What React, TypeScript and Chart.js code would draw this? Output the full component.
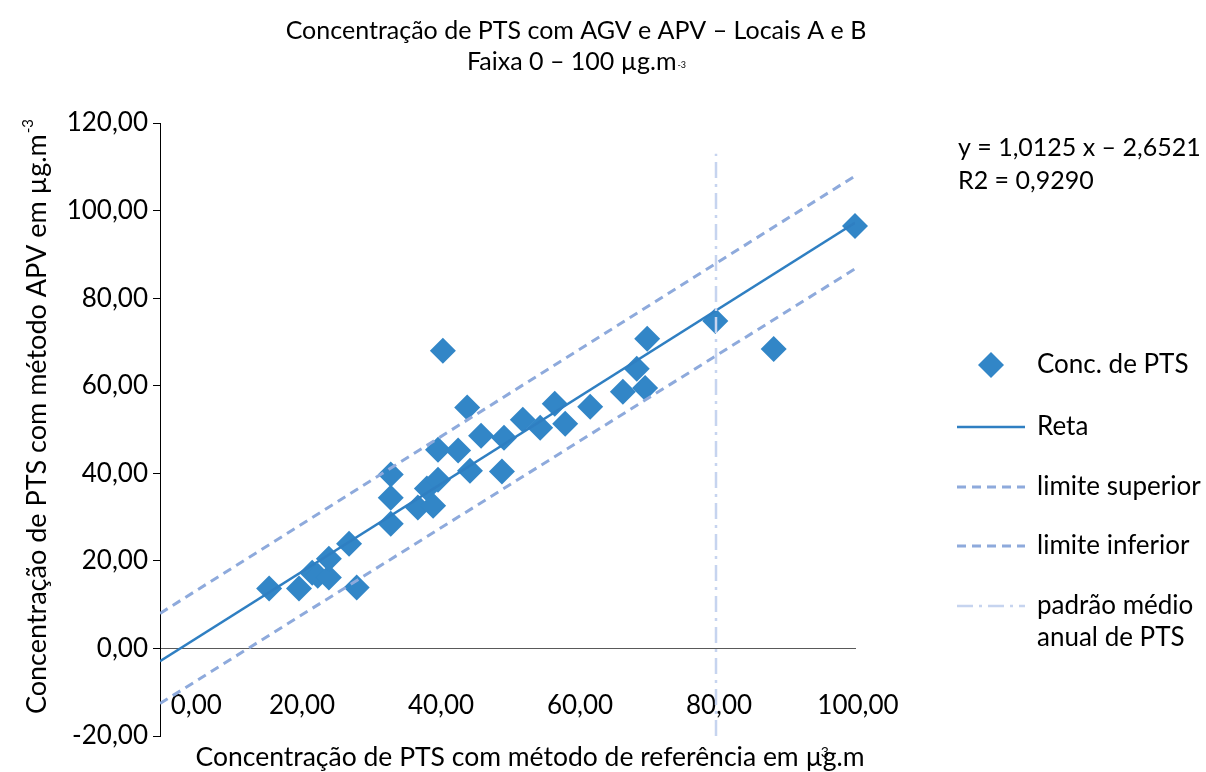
import React, { useEffect, useRef } from 'react';
import { Chart, registerables } from 'chart.js';

Chart.register(...registerables);

// ---- data ----
const refX = [15.7, 20.0, 21.9, 22.7, 24.3, 24.3, 27.2, 28.3, 33.2, 33.2, 33.2, 37.1, 38.4, 39.3, 40.0, 40.0, 40.7, 42.9, 44.2, 44.6, 46.2, 49.2, 49.5, 52.2, 54.7, 56.8, 58.3, 61.9, 66.6, 68.6, 69.8, 70.1, 79.9, 88.3, 100.0];
const apvY = [13.7, 13.7, 17.3, 16.6, 16.2, 20.5, 23.9, 13.9, 28.5, 34.4, 39.7, 32.2, 36.5, 32.6, 38.5, 45.4, 68.0, 45.2, 55.0, 40.6, 48.6, 40.4, 48.1, 52.2, 50.4, 55.9, 51.3, 55.2, 58.6, 63.9, 59.5, 70.7, 74.8, 68.4, 96.5];

const retaX = [0, 100];
const retaY = [-2.9, 97.2];
const supX = [0, 100];
const supY = [8.0, 107.9];
const infX = [0, 100];
const infY = [-12.6, 86.7];
const padraoX = [80, 80];
const padraoY = [-20, 113];

const xTicks = [0, 20, 40, 60, 80, 100];
const yTicks = [-20, 0, 20, 40, 60, 80, 100, 120];

const titleLine1 = 'Concentração de PTS com AGV e APV – Locais A e B';
const titleLine2 = 'Faixa 0 – 100 µg.m';
const xTitle = 'Concentração de PTS com método de referência em µg.m';
const yTitle = 'Concentração de PTS com método APV em µg.m';
const eqLine1 = 'y = 1,0125 x – 2,6521';
const eqLine2 = 'R2 = 0,9290';

const legendLabels = ['Conc. de PTS', 'Reta', 'limite superior', 'limite inferior', 'padrão médio|anual de PTS'];

const FONT = 'Lato, "Open Sans", sans-serif';
const BLUE = '#3286C7';
const LINE_BLUE = '#2F7FC2';
const LIGHT = '#8EAADC';
const PALE = '#C6D4EF';

const fmt = (v: number) => v.toFixed(2).replace('.', ',');
const pts = (xs: number[], ys: number[]) => xs.map((x, i) => ({ x, y: ys[i] }));

const textPlugin = {
  id: 'textPlugin',
  afterDraw(chart: any) {
    const ctx = chart.ctx as CanvasRenderingContext2D;
    ctx.save();
    ctx.fillStyle = '#000';

    // title
    ctx.textAlign = 'center';
    ctx.textBaseline = 'middle';
    ctx.font = `25px ${FONT}`;
    ctx.fillText(titleLine1, 576, 31);
    const w2 = ctx.measureText(titleLine2).width;
    ctx.font = `9px ${FONT}`;
    const wsup = ctx.measureText('-3').width;
    const startX = 576 - (w2 + wsup) / 2;
    ctx.textAlign = 'left';
    ctx.font = `25px ${FONT}`;
    ctx.fillText(titleLine2, startX, 62);
    ctx.font = `9px ${FONT}`;
    ctx.fillText('-3', startX + w2 + 1, 65);

    // equation
    ctx.font = `25px ${FONT}`;
    ctx.textAlign = 'left';
    ctx.fillText(eqLine1, 958, 148);
    ctx.fillText(eqLine2, 958, 181);

    // x title
    ctx.font = `26.5px ${FONT}`;
    const xw = ctx.measureText(xTitle).width;
    const xs = 530 - xw / 2;
    ctx.fillText(xTitle, xs, 757);
    const muW = ctx.measureText(xTitle.slice(0, xTitle.indexOf('µ') + 1)).width;
    ctx.font = `14px ${FONT}`;
    ctx.fillText('3', xs + muW - 2, 752);

    // y title
    ctx.save();
    ctx.translate(37, 417);
    ctx.rotate(-Math.PI / 2);
    ctx.font = `27px ${FONT}`;
    const yw = ctx.measureText(yTitle).width;
    ctx.font = `15px ${FONT}`;
    const ysw = ctx.measureText('-3').width;
    const ys = -(yw + ysw) / 2;
    ctx.font = `27px ${FONT}`;
    ctx.fillText(yTitle, ys, 0);
    ctx.font = `15px ${FONT}`;
    ctx.fillText('-3', ys + yw + 1, -9);
    ctx.restore();

    // legend
    const ds = chart.data.datasets;
    const order = [4, 0, 1, 2, 3];
    const rows = [365, 427, 487, 546, 606];
    order.forEach((di: number, k: number) => {
      const d = ds[di];
      const y = rows[k];
      if (di === 4) {
        const r = 13;
        ctx.fillStyle = d.backgroundColor;
        ctx.beginPath();
        ctx.moveTo(991, y - r);
        ctx.lineTo(991 + r, y);
        ctx.lineTo(991, y + r);
        ctx.lineTo(991 - r, y);
        ctx.closePath();
        ctx.fill();
      } else {
        ctx.strokeStyle = d.borderColor;
        ctx.lineWidth = d.borderWidth;
        ctx.setLineDash(d.borderDash || []);
        ctx.beginPath();
        ctx.moveTo(957, y);
        ctx.lineTo(1025, y);
        ctx.stroke();
        ctx.setLineDash([]);
      }
      ctx.fillStyle = '#000';
      ctx.font = `26px ${FONT}`;
      ctx.textAlign = 'left';
      ctx.textBaseline = 'middle';
      const parts = legendLabels[k].split('|');
      parts.forEach((p: string, j: number) => ctx.fillText(p, 1037, y + j * 32));
    });

    ctx.restore();
  },
};

export default function App() {
  const canvasRef = useRef<HTMLCanvasElement | null>(null);

  useEffect(() => {
    const canvas = canvasRef.current;
    if (!canvas) return;
    const chart = new Chart(canvas, {
      type: 'scatter',
      data: {
        datasets: [
          {
            label: 'Reta',
            data: pts(retaX, retaY),
            showLine: true,
            borderColor: LINE_BLUE,
            borderWidth: 2.5,
            pointRadius: 0,
            order: 3,
          },
          {
            label: 'limite superior',
            data: pts(supX, supY),
            showLine: true,
            borderColor: LIGHT,
            borderWidth: 3,
            borderDash: [9, 6],
            pointRadius: 0,
            order: 2,
          },
          {
            label: 'limite inferior',
            data: pts(infX, infY),
            showLine: true,
            borderColor: LIGHT,
            borderWidth: 3,
            borderDash: [9, 6],
            pointRadius: 0,
            order: 1,
          },
          {
            label: 'padrão médio anual de PTS',
            data: pts(padraoX, padraoY),
            showLine: true,
            borderColor: PALE,
            borderWidth: 2.5,
            borderDash: [16, 6, 3, 6],
            pointRadius: 0,
            order: 0,
          },
          {
            label: 'Conc. de PTS',
            data: pts(refX, apvY),
            pointStyle: 'rectRot',
            pointRadius: 13,
            pointBorderWidth: 0,
            backgroundColor: BLUE,
            borderColor: BLUE,
            clip: false,
            order: 5,
          },
        ] as any,
      },
      options: {
        animation: false,
        responsive: false,
        maintainAspectRatio: false,
        layout: { padding: { left: 0, top: 123, right: 351, bottom: 36 } },
        plugins: {
          legend: { display: false },
          tooltip: { enabled: false },
          title: { display: false },
        },
        scales: {
          x: {
            type: 'linear',
            min: 0,
            max: 100,
            position: { y: 0 } as any,
            afterBuildTicks: (scale: any) => {
              scale.ticks = xTicks.map((v) => ({ value: v }));
            },
            grid: { display: true, drawOnChartArea: false, drawTicks: false },
            border: { display: true, color: '#595959', width: 1 },
            ticks: {
              padding: 42,
              color: '#000',
              font: { family: FONT, size: 26 },
              maxRotation: 0,
              autoSkip: false,
              labelOffset: 3,
              callback: (v: any) => (Number(v) === 0 ? '          ' + fmt(0) : fmt(Number(v))),
            },
          },
          y: {
            type: 'linear',
            min: -20,
            max: 120,
            afterBuildTicks: (scale: any) => {
              scale.ticks = yTicks.map((v) => ({ value: v }));
            },
            afterFit: (scale: any) => {
              scale.width = 160;
            },
            grid: { display: true, drawOnChartArea: false, drawTicks: true, tickLength: 7, color: '#000' },
            border: { display: true, color: '#000', width: 1 },
            ticks: {
              padding: 5,
              color: '#000',
              font: { family: FONT, size: 26 },
              callback: (v: any) => fmt(Number(v)),
            },
          },
        },
      } as any,
      plugins: [textPlugin],
    });
    return () => chart.destroy();
  }, []);

  return (
    <div style={{ position: 'fixed', left: 0, top: 0, width: 1206, height: 772, background: '#fff' }}>
      <canvas ref={canvasRef} width={1206} height={772} style={{ display: 'block', width: 1206, height: 772 }} />
    </div>
  );
}
